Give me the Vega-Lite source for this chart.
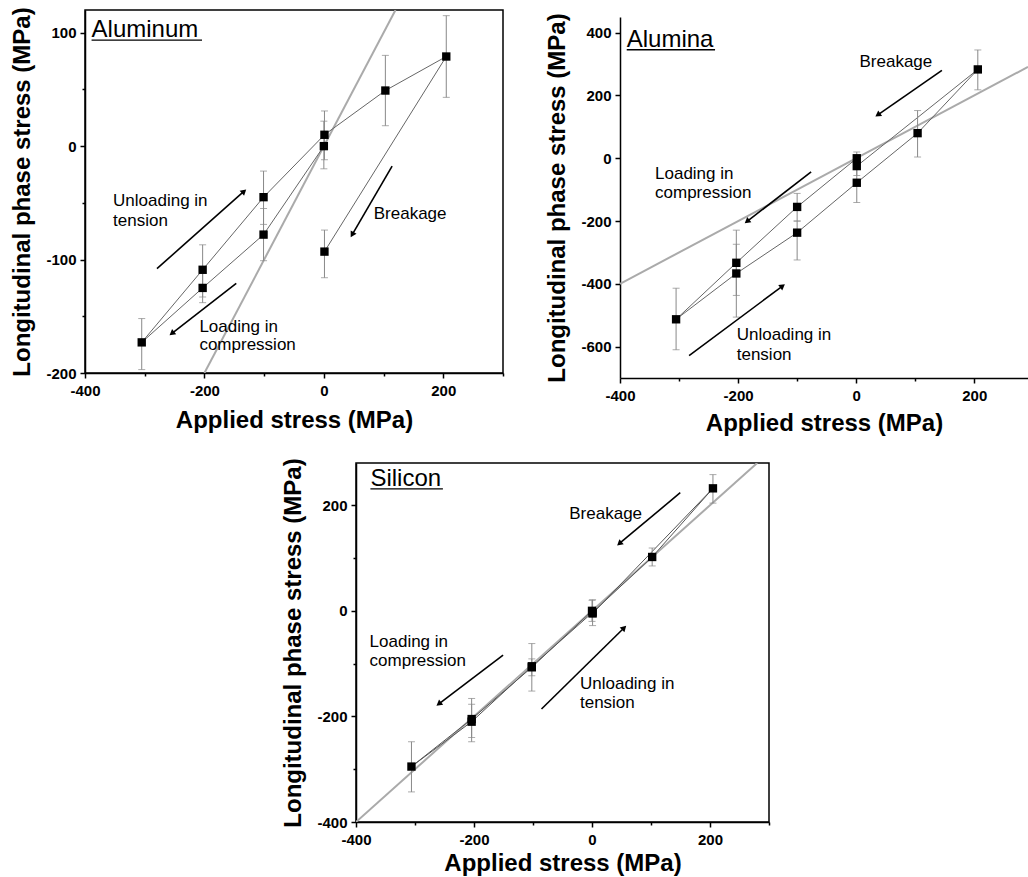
{
  "$schema": "https://vega.github.io/schema/vega-lite/v6.json",
  "padding": {"left": 10, "top": 6, "right": 0, "bottom": 0},
  "background": "white",
  "config": {
    "font": "Liberation Sans",
    "view": {"stroke": null},
    "axis": {
      "labelFont": "Liberation Sans", "labelFontSize": 15, "labelFontWeight": "bold", "labelColor": "black",
      "titleFont": "Liberation Sans", "titleFontSize": 24, "titleFontWeight": "bold", "titleColor": "black",
      "domainColor": "black", "domainWidth": 1.5, "tickColor": "black", "tickWidth": 1.5, "grid": false,
      "labelFlush": false, "labelOverlap": false
    },
    "axisX": {"labelPadding": 5, "titlePadding": 8},
    "axisY": {"labelPadding": 4, "titlePadding": 11},
    "text": {"font": "Liberation Sans", "fontSize": 17, "align": "left", "baseline": "middle", "color": "black"}
  },
  "datasets": {
    "al_pts": [
      {"o": 1, "x": 0, "y": 0, "lo": -20, "hi": 22},
      {"o": 2, "x": -101, "y": -78, "lo": -101, "hi": -55},
      {"o": 3, "x": -203, "y": -125, "lo": -138, "hi": -112},
      {"o": 4, "x": -305, "y": -173, "lo": -197, "hi": -152},
      {"o": 5, "x": -203, "y": -109, "lo": -133, "hi": -87},
      {"o": 6, "x": -101, "y": -45, "lo": -69, "hi": -22},
      {"o": 7, "x": 1, "y": 10, "lo": -12, "hi": 31},
      {"o": 8, "x": 103, "y": 49, "lo": 18, "hi": 80},
      {"o": 9, "x": 205, "y": 79, "lo": 43, "hi": 115},
      {"o": 10, "x": 1, "y": -93, "lo": -116, "hi": -74}
    ],
    "al_diag": [{"x": -200, "y": -200}, {"x": 120, "y": 120}],
    "al_arrows": [
      {"x": -279.5, "y": -108, "x2": -134.9, "y2": -40.4, "angle": 48.3},
      {"x": 114.3, "y": -17.7, "x2": 48.2, "y2": -77.3, "angle": 210.3},
      {"x": -146.7, "y": -121, "x2": -253.3, "y2": -164.6, "angle": 232.1}
    ],
    "al_text": [
      {"x": -353, "y": -48.7, "t": "Unloading in"},
      {"x": -353, "y": -66, "t": "tension"},
      {"x": 83.5, "y": -60, "t": "Breakage"},
      {"x": -208.4, "y": -159.3, "t": "Loading in"},
      {"x": -208.4, "y": -175.5, "t": "compression"}
    ],
    "al_title": [{"x": -389, "y": 96, "x2": -204, "y2": 93.5, "t": "Aluminum"}],
    "alu_pts": [
      {"o": 1, "x": 1, "y": 0, "lo": -20, "hi": 20},
      {"o": 2, "x": -100, "y": -155, "lo": -200, "hi": -112},
      {"o": 3, "x": -203, "y": -333, "lo": -437, "hi": -229},
      {"o": 4, "x": -305, "y": -513, "lo": -610, "hi": -414},
      {"o": 5, "x": -203, "y": -367, "lo": -506, "hi": -274},
      {"o": 6, "x": -100, "y": -237, "lo": -324, "hi": -200},
      {"o": 7, "x": 1, "y": -78, "lo": -141, "hi": -15},
      {"o": 8, "x": 104, "y": 80, "lo": 4, "hi": 152},
      {"o": 9, "x": 206, "y": 283, "lo": 218, "hi": 345},
      {"o": 10, "x": 1, "y": -25, "lo": -55, "hi": 5}
    ],
    "alu_diag": [{"x": -400, "y": -400}, {"x": 291, "y": 291}],
    "alu_arrows": [
      {"x": 145.2, "y": 279.8, "x2": 37.9, "y2": 139.9, "angle": 235.2},
      {"x": -76.3, "y": -43.5, "x2": -183.6, "y2": -199.4, "angle": 232.3},
      {"x": -283, "y": -628.6, "x2": -126, "y2": -409, "angle": 53.3}
    ],
    "alu_text": [
      {"x": 5.6, "y": 306, "t": "Breakage"},
      {"x": -340.7, "y": -48.7, "t": "Loading in"},
      {"x": -340.7, "y": -112, "t": "compression"},
      {"x": -202.3, "y": -563, "t": "Unloading in"},
      {"x": -202.3, "y": -626, "t": "tension"}
    ],
    "alu_title": [{"x": -388.6, "y": 354, "x2": -239, "y2": 345.6, "t": "Alumina"}],
    "si_pts": [
      {"o": 1, "x": 0, "y": 0, "lo": -20, "hi": 20},
      {"o": 2, "x": -102, "y": -107, "lo": -152, "hi": -62},
      {"o": 3, "x": -204, "y": -205, "lo": -240, "hi": -166},
      {"o": 4, "x": -306, "y": -295, "lo": -343, "hi": -248},
      {"o": 5, "x": -204, "y": -210, "lo": -248, "hi": -177},
      {"o": 6, "x": -102, "y": -105, "lo": -123, "hi": -91},
      {"o": 7, "x": 1, "y": -3, "lo": -28, "hi": 21},
      {"o": 8, "x": 102, "y": 102, "lo": 85, "hi": 119},
      {"o": 9, "x": 205, "y": 232, "lo": 204, "hi": 258},
      {"o": 10, "x": 1, "y": -5, "lo": -10, "hi": 0}
    ],
    "si_diag": [{"x": -400, "y": -400}, {"x": 280, "y": 280}],
    "si_arrows": [
      {"x": 149.6, "y": 223.7, "x2": 47.6, "y2": 128.5, "angle": 230},
      {"x": -150.7, "y": -83.8, "x2": -258.4, "y2": -175.2, "angle": 232.7},
      {"x": -85.6, "y": -185.9, "x2": 53.3, "y2": -33.4, "angle": 45.4}
    ],
    "si_text": [
      {"x": -38.5, "y": 182.7, "t": "Breakage"},
      {"x": -377, "y": -58.6, "t": "Loading in"},
      {"x": -377, "y": -95, "t": "compression"},
      {"x": -20.4, "y": -138.6, "t": "Unloading in"},
      {"x": -20.4, "y": -175.2, "t": "tension"}
    ],
    "si_title": [{"x": -375.6, "y": 236, "x2": -252.7, "y2": 231, "t": "Silicon"}]
  },
  "bounds": "full",
  "spacing": 22,
  "vconcat": [
    {
      "bounds": "flush",
      "spacing": 117,
      "hconcat": [
        {
          "width": 418, "height": 363,
          "view": {"stroke": "black", "strokeWidth": 1.5},
          "layer": [
            {"mark": {"type": "rule", "strokeDash": [4, 3], "strokeWidth": 1, "color": "#222"}, "encoding": {"x": {"datum": 0, "type": "quantitative"}}},
            {"mark": {"type": "rule", "strokeDash": [4, 3], "strokeWidth": 1, "color": "#222"}, "encoding": {"y": {"datum": 0, "type": "quantitative"}}},
            {
              "data": {"name": "al_diag"},
              "mark": {"type": "line", "color": "#aaaaaa", "strokeWidth": 2, "clip": true},
              "encoding": {
                "x": {"field": "x", "type": "quantitative", "scale": {"domain": [-400, 300], "nice": false, "zero": false},
                  "axis": {"title": "Applied stress (MPa)", "titlePadding": 10, "values": [-400, -300, -200, -100, 0, 100, 200, 300],
                    "labelExpr": "datum.value % 200 === 0 ? '' + datum.value : ''",
                    "tickSize": {"condition": {"test": "datum.value % 200 !== 0", "value": 3}, "value": 5}}},
                "y": {"field": "y", "type": "quantitative", "scale": {"domain": [-200, 120], "nice": false, "zero": false},
                  "axis": {"title": "Longitudinal phase stress (MPa)", "values": [-200, -150, -100, -50, 0, 50, 100],
                    "labelExpr": "datum.value % 100 === 0 ? '' + datum.value : ''",
                    "tickSize": {"condition": {"test": "datum.value % 100 !== 0", "value": 3}, "value": 5}}}
              }
            },
            {"data": {"name": "al_pts"}, "mark": {"type": "line", "color": "#666666", "strokeWidth": 1},
              "encoding": {"x": {"field": "x", "type": "quantitative"}, "y": {"field": "y", "type": "quantitative"}, "order": {"field": "o"}}},
            {"data": {"name": "al_pts"}, "mark": {"type": "rule", "color": "#888888", "strokeWidth": 1},
              "encoding": {"x": {"field": "x", "type": "quantitative"}, "y": {"field": "lo", "type": "quantitative"}, "y2": {"field": "hi"}}},
            {"data": {"name": "al_pts"}, "mark": {"type": "tick", "orient": "horizontal", "size": 7, "thickness": 1, "color": "#888888"},
              "encoding": {"x": {"field": "x", "type": "quantitative"}, "y": {"field": "lo", "type": "quantitative"}}},
            {"data": {"name": "al_pts"}, "mark": {"type": "tick", "orient": "horizontal", "size": 7, "thickness": 1, "color": "#888888"},
              "encoding": {"x": {"field": "x", "type": "quantitative"}, "y": {"field": "hi", "type": "quantitative"}}},
            {"data": {"name": "al_pts"}, "mark": {"type": "point", "shape": "square", "filled": true, "color": "black", "size": 70, "opacity": 1},
              "encoding": {"x": {"field": "x", "type": "quantitative"}, "y": {"field": "y", "type": "quantitative"}}},
            {"data": {"name": "al_arrows"}, "mark": {"type": "rule", "color": "black", "strokeWidth": 1.6},
              "encoding": {"x": {"field": "x", "type": "quantitative"}, "y": {"field": "y", "type": "quantitative"}, "x2": {"field": "x2"}, "y2": {"field": "y2"}}},
            {"data": {"name": "al_arrows"}, "mark": {"type": "point", "shape": "triangle", "filled": true, "color": "black", "size": 45, "opacity": 1},
              "encoding": {"x": {"field": "x2", "type": "quantitative"}, "y": {"field": "y2", "type": "quantitative"}, "angle": {"field": "angle", "type": "quantitative", "scale": null}}},
            {"data": {"name": "al_text"}, "mark": {"type": "text"},
              "encoding": {"x": {"field": "x", "type": "quantitative"}, "y": {"field": "y", "type": "quantitative"}, "text": {"field": "t"}}},
            {"data": {"name": "al_title"}, "mark": {"type": "text", "fontSize": 24, "baseline": "alphabetic"},
              "encoding": {"x": {"field": "x", "type": "quantitative"}, "y": {"field": "y", "type": "quantitative"}, "text": {"field": "t"}}},
            {"data": {"name": "al_title"}, "mark": {"type": "rule", "color": "black", "strokeWidth": 1.3},
              "encoding": {"x": {"field": "x", "type": "quantitative"}, "x2": {"field": "x2"}, "y": {"field": "y2", "type": "quantitative"}}}
          ]
        },
        {
          "bounds": "flush",
          "spacing": 0,
          "vconcat": [
            {"width": 10, "height": 7, "data": {"values": [{}]}, "mark": {"type": "point", "opacity": 0}},
            {
              "width": 408, "height": 361,
              "layer": [
                {"mark": {"type": "rule", "strokeDash": [4, 3], "strokeWidth": 1, "color": "#222"}, "encoding": {"x": {"datum": 0, "type": "quantitative"}}},
                {"mark": {"type": "rule", "strokeDash": [4, 3], "strokeWidth": 1, "color": "#222"}, "encoding": {"y": {"datum": 0, "type": "quantitative"}}},
                {"mark": {"type": "rule", "strokeWidth": 1.5, "color": "black"}, "encoding": {"y": {"datum": 450, "type": "quantitative"}}},
                {
                  "data": {"name": "alu_diag"},
                  "mark": {"type": "line", "color": "#aaaaaa", "strokeWidth": 2, "clip": true},
                  "encoding": {
                    "x": {"field": "x", "type": "quantitative", "scale": {"domain": [-400, 291], "nice": false, "zero": false},
                      "axis": {"title": "Applied stress (MPa)", "titlePadding": 8, "values": [-400, -300, -200, -100, 0, 100, 200],
                        "labelExpr": "datum.value % 200 === 0 ? '' + datum.value : ''",
                        "tickSize": {"condition": {"test": "datum.value % 200 !== 0", "value": 3}, "value": 5}}},
                    "y": {"field": "y", "type": "quantitative", "scale": {"domain": [-700, 450], "nice": false, "zero": false},
                      "axis": {"title": "Longitudinal phase stress (MPa)", "values": [-600, -500, -400, -300, -200, -100, 0, 100, 200, 300, 400],
                        "labelExpr": "datum.value % 200 === 0 ? '' + datum.value : ''",
                        "tickSize": {"condition": {"test": "datum.value % 200 !== 0", "value": 3}, "value": 5}}}
                  }
                },
                {"data": {"name": "alu_pts"}, "mark": {"type": "line", "color": "#666666", "strokeWidth": 1},
                  "encoding": {"x": {"field": "x", "type": "quantitative"}, "y": {"field": "y", "type": "quantitative"}, "order": {"field": "o"}}},
                {"data": {"name": "alu_pts"}, "mark": {"type": "rule", "color": "#888888", "strokeWidth": 1},
                  "encoding": {"x": {"field": "x", "type": "quantitative"}, "y": {"field": "lo", "type": "quantitative"}, "y2": {"field": "hi"}}},
                {"data": {"name": "alu_pts"}, "mark": {"type": "tick", "orient": "horizontal", "size": 7, "thickness": 1, "color": "#888888"},
                  "encoding": {"x": {"field": "x", "type": "quantitative"}, "y": {"field": "lo", "type": "quantitative"}}},
                {"data": {"name": "alu_pts"}, "mark": {"type": "tick", "orient": "horizontal", "size": 7, "thickness": 1, "color": "#888888"},
                  "encoding": {"x": {"field": "x", "type": "quantitative"}, "y": {"field": "hi", "type": "quantitative"}}},
                {"data": {"name": "alu_pts"}, "mark": {"type": "point", "shape": "square", "filled": true, "color": "black", "size": 70, "opacity": 1},
                  "encoding": {"x": {"field": "x", "type": "quantitative"}, "y": {"field": "y", "type": "quantitative"}}},
                {"data": {"name": "alu_arrows"}, "mark": {"type": "rule", "color": "black", "strokeWidth": 1.6},
                  "encoding": {"x": {"field": "x", "type": "quantitative"}, "y": {"field": "y", "type": "quantitative"}, "x2": {"field": "x2"}, "y2": {"field": "y2"}}},
                {"data": {"name": "alu_arrows"}, "mark": {"type": "point", "shape": "triangle", "filled": true, "color": "black", "size": 45, "opacity": 1},
                  "encoding": {"x": {"field": "x2", "type": "quantitative"}, "y": {"field": "y2", "type": "quantitative"}, "angle": {"field": "angle", "type": "quantitative", "scale": null}}},
                {"data": {"name": "alu_text"}, "mark": {"type": "text"},
                  "encoding": {"x": {"field": "x", "type": "quantitative"}, "y": {"field": "y", "type": "quantitative"}, "text": {"field": "t"}}},
                {"data": {"name": "alu_title"}, "mark": {"type": "text", "fontSize": 24, "baseline": "alphabetic"},
                  "encoding": {"x": {"field": "x", "type": "quantitative"}, "y": {"field": "y", "type": "quantitative"}, "text": {"field": "t"}}},
                {"data": {"name": "alu_title"}, "mark": {"type": "rule", "color": "black", "strokeWidth": 1.3},
                  "encoding": {"x": {"field": "x", "type": "quantitative"}, "x2": {"field": "x2"}, "y": {"field": "y2", "type": "quantitative"}}}
              ]
            }
          ]
        }
      ]
    },
    {
      "bounds": "flush",
      "spacing": 0,
      "hconcat": [
        {"width": 271, "height": 7, "data": {"values": [{}]}, "mark": {"type": "point", "opacity": 0}},
        {
          "width": 413, "height": 359,
          "view": {"stroke": "black", "strokeWidth": 1.5},
          "layer": [
            {"mark": {"type": "rule", "strokeDash": [4, 3], "strokeWidth": 1, "color": "#222"}, "encoding": {"x": {"datum": 0, "type": "quantitative"}}},
            {"mark": {"type": "rule", "strokeDash": [4, 3], "strokeWidth": 1, "color": "#222"}, "encoding": {"y": {"datum": 0, "type": "quantitative"}}},
            {
              "data": {"name": "si_diag"},
              "mark": {"type": "line", "color": "#aaaaaa", "strokeWidth": 2, "clip": true},
              "encoding": {
                "x": {"field": "x", "type": "quantitative", "scale": {"domain": [-400, 300], "nice": false, "zero": false},
                  "axis": {"title": "Applied stress (MPa)", "titlePadding": 4, "values": [-400, -300, -200, -100, 0, 100, 200, 300],
                    "labelExpr": "datum.value % 200 === 0 ? '' + datum.value : ''",
                    "tickSize": {"condition": {"test": "datum.value % 200 !== 0", "value": 3}, "value": 5}}},
                "y": {"field": "y", "type": "quantitative", "scale": {"domain": [-400, 280], "nice": false, "zero": false},
                  "axis": {"title": "Longitudinal phase stress (MPa)", "values": [-400, -300, -200, -100, 0, 100, 200],
                    "labelExpr": "datum.value % 200 === 0 ? '' + datum.value : ''",
                    "tickSize": {"condition": {"test": "datum.value % 200 !== 0", "value": 3}, "value": 5}}}
              }
            },
            {"data": {"name": "si_pts"}, "mark": {"type": "line", "color": "#555555", "strokeWidth": 1},
              "encoding": {"x": {"field": "x", "type": "quantitative"}, "y": {"field": "y", "type": "quantitative"}, "order": {"field": "o"}}},
            {"data": {"name": "si_pts"}, "mark": {"type": "rule", "color": "#888888", "strokeWidth": 1},
              "encoding": {"x": {"field": "x", "type": "quantitative"}, "y": {"field": "lo", "type": "quantitative"}, "y2": {"field": "hi"}}},
            {"data": {"name": "si_pts"}, "mark": {"type": "tick", "orient": "horizontal", "size": 7, "thickness": 1, "color": "#888888"},
              "encoding": {"x": {"field": "x", "type": "quantitative"}, "y": {"field": "lo", "type": "quantitative"}}},
            {"data": {"name": "si_pts"}, "mark": {"type": "tick", "orient": "horizontal", "size": 7, "thickness": 1, "color": "#888888"},
              "encoding": {"x": {"field": "x", "type": "quantitative"}, "y": {"field": "hi", "type": "quantitative"}}},
            {"data": {"name": "si_pts"}, "mark": {"type": "point", "shape": "square", "filled": true, "color": "black", "size": 70, "opacity": 1},
              "encoding": {"x": {"field": "x", "type": "quantitative"}, "y": {"field": "y", "type": "quantitative"}}},
            {"data": {"name": "si_arrows"}, "mark": {"type": "rule", "color": "black", "strokeWidth": 1.6},
              "encoding": {"x": {"field": "x", "type": "quantitative"}, "y": {"field": "y", "type": "quantitative"}, "x2": {"field": "x2"}, "y2": {"field": "y2"}}},
            {"data": {"name": "si_arrows"}, "mark": {"type": "point", "shape": "triangle", "filled": true, "color": "black", "size": 45, "opacity": 1},
              "encoding": {"x": {"field": "x2", "type": "quantitative"}, "y": {"field": "y2", "type": "quantitative"}, "angle": {"field": "angle", "type": "quantitative", "scale": null}}},
            {"data": {"name": "si_text"}, "mark": {"type": "text"},
              "encoding": {"x": {"field": "x", "type": "quantitative"}, "y": {"field": "y", "type": "quantitative"}, "text": {"field": "t"}}},
            {"data": {"name": "si_title"}, "mark": {"type": "text", "fontSize": 24, "baseline": "alphabetic"},
              "encoding": {"x": {"field": "x", "type": "quantitative"}, "y": {"field": "y", "type": "quantitative"}, "text": {"field": "t"}}},
            {"data": {"name": "si_title"}, "mark": {"type": "rule", "color": "black", "strokeWidth": 1.3},
              "encoding": {"x": {"field": "x", "type": "quantitative"}, "x2": {"field": "x2"}, "y": {"field": "y2", "type": "quantitative"}}}
          ]
        }
      ]
    }
  ]
}
